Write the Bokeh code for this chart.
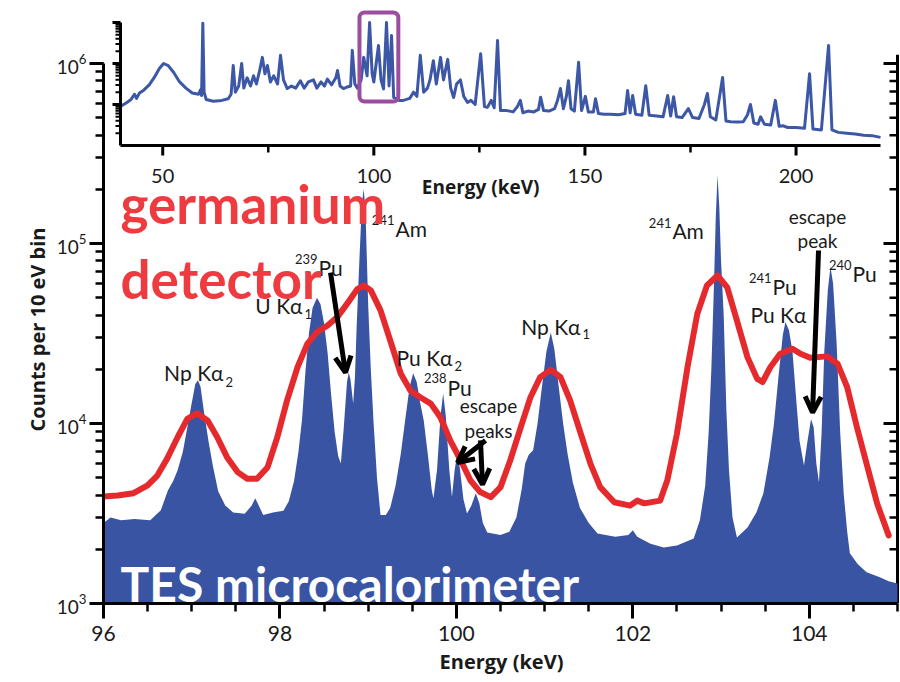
from bokeh.plotting import figure
from bokeh.models import (Range1d, LogScale, SingleIntervalTicker, Arrow, OpenHead, Title)
from bokeh.core.properties import value
from bokeh.embed import file_html
from bokeh.resources import INLINE

# ---------------- data ----------------
# TES microcalorimeter spectrum (counts per 10 eV bin)
tes_energy = [96.00, 96.08, 96.20, 96.35, 96.53, 96.65, 96.73, 96.79, 96.84, 96.90, 96.95, 97.00,
              97.04, 97.07, 97.10, 97.14, 97.19, 97.24, 97.30, 97.38, 97.47, 97.60, 97.68, 97.72,
              97.76, 97.81, 97.92, 98.04, 98.10, 98.16, 98.21, 98.25, 98.29, 98.33, 98.37, 98.42,
              98.46, 98.50, 98.54, 98.58, 98.62, 98.66, 98.69, 98.72, 98.76, 98.78, 98.80, 98.83,
              98.85, 98.87, 98.90, 98.93, 98.95, 98.97, 99.00, 99.03, 99.06, 99.10, 99.14, 99.20,
              99.25, 99.31, 99.37, 99.42, 99.47, 99.51, 99.55, 99.59, 99.63, 99.68, 99.72, 99.74,
              99.78, 99.82, 99.85, 99.88, 99.92, 99.95, 99.98, 100.01, 100.04, 100.08, 100.12,
              100.17, 100.22, 100.26, 100.30, 100.35, 100.50, 100.60, 100.68, 100.74, 100.78,
              100.82, 100.87, 100.92, 100.97, 101.02, 101.07, 101.11, 101.16, 101.21, 101.26,
              101.32, 101.40, 101.50, 101.60, 101.80, 101.95, 102.00, 102.05, 102.20, 102.35,
              102.50, 102.69, 102.76, 102.82, 102.86, 102.89, 102.92, 102.94, 102.96, 102.98,
              103.00, 103.03, 103.06, 103.09, 103.13, 103.18, 103.30, 103.40, 103.48, 103.55,
              103.60, 103.65, 103.70, 103.73, 103.77, 103.81, 103.85, 103.89, 103.94, 103.98,
              104.02, 104.05, 104.08, 104.11, 104.14, 104.17, 104.21, 104.24, 104.27, 104.31,
              104.35, 104.39, 104.43, 104.46, 104.55, 104.65, 104.80, 104.90, 105.00]
tes_counts = [2800, 3000, 2900, 2950, 2900, 3300, 4250, 4800, 5500, 7000, 9500, 13000,
              16500, 17400, 16000, 11500, 8000, 5800, 4200, 3500, 3200, 3150, 3500, 3840,
              3500, 3100, 3200, 3280, 3700, 4800, 7000, 10500, 19700, 32000, 44000, 50000,
              46000, 36000, 24700, 14500, 9000, 6600, 6000, 9000, 17000, 19200, 17500, 12900,
              18000, 35000, 80000, 170000, 200000, 150000, 46000, 20000, 10400, 5000, 3100, 3100,
              3400, 4500, 6800, 10500, 16000, 19000, 17000, 13000, 10400, 6500, 4300, 3840,
              5500, 11000, 14700, 11000, 5500, 3900, 5500, 6800, 5600, 3800, 3160,
              3500, 4100, 3600, 2800, 2480, 2400, 2500, 3000, 4300, 6000,
              6700, 7100, 10000, 16000, 25000, 32000, 26000, 16000, 10000, 6800,
              4700, 3400, 2800, 2450, 2350, 2400, 2550, 2350, 2150, 2050,
              2100, 2300, 2900, 4500, 9000, 20000, 60000, 140000, 240000, 160000,
              80000, 40000, 12000, 5500, 3000, 2330, 2640, 3200, 4100, 6500,
              10000, 18000, 31000, 36600, 33000, 25000, 14000, 8000, 5850, 8000,
              10600, 9500, 6000, 4700, 9000, 25000, 55000, 74000, 60000, 28000,
              9000, 4100, 2500, 1900, 1650, 1490, 1400, 1330, 1290]

# Germanium detector spectrum
ge_energy = [95.97, 96.16, 96.34, 96.50, 96.61, 96.72, 96.84, 96.95, 97.06, 97.18, 97.29, 97.40,
             97.52, 97.63, 97.74, 97.86, 97.97, 98.08, 98.20, 98.31, 98.42, 98.54, 98.65, 98.76,
             98.88, 98.95, 99.03, 99.14, 99.25, 99.37, 99.48, 99.59, 99.71, 99.82, 99.93, 100.05,
             100.16, 100.27, 100.39, 100.50, 100.61, 100.73, 100.84, 100.95, 101.07, 101.18,
             101.29, 101.41, 101.52, 101.63, 101.79, 101.97, 102.05, 102.13, 102.31, 102.39,
             102.50, 102.62, 102.73, 102.84, 102.96, 103.07, 103.18, 103.30, 103.41, 103.47,
             103.56, 103.67, 103.81, 103.90, 104.01, 104.20, 104.32, 104.43, 104.54, 104.66,
             104.77, 104.90]
ge_counts = [3930, 3980, 4100, 4530, 5140, 6360, 8390, 10600, 11400, 10400, 8390, 6500,
             5370, 4930, 4930, 5720, 8390, 13400, 20600, 27700, 32200, 35000, 39000, 46200,
             56000, 58400, 54900, 42500, 28900, 18900, 15200, 14000, 12900, 10800, 8050, 6230,
             4820, 4160, 3900, 4430, 6230, 9550, 14000, 18100, 19900, 18100,
             13400, 8770, 5970, 4430, 3650, 3500, 3730, 3600, 3730, 4820,
             8770, 20600, 40600, 58400, 66400, 57100, 37300, 23300, 17700, 17000,
             20600, 24400, 26000, 24400, 23200, 23600, 21500, 15900, 9550, 5720,
             3580, 2390]

# Inset: full TES spectrum 40-220 keV
inset_energy = [40.0, 41.5, 42.5, 43.3, 43.8, 44.5, 45.5, 46.8, 48.0, 49.2, 50.2, 51.3, 52.6, 54.0,
                55.5, 57.0, 58.5, 58.9, 59.2, 59.5, 59.8, 60.3, 62.0, 64.0, 65.5, 66.2, 66.7, 67.2,
                68.0, 68.7, 69.2, 70.0, 70.8, 71.5, 72.2, 73.0, 73.6, 74.2, 74.8, 75.5, 76.3, 77.2,
                77.9, 78.6, 79.5, 80.5, 81.5, 82.6, 83.5, 84.5, 85.7, 86.5, 87.5, 88.3, 89.0, 90.0,
                91.0, 91.4, 92.0, 92.8, 93.5, 94.5, 94.9, 95.5, 96.1, 97.0, 97.6, 98.4, 99.0, 99.6,
                100.0, 101.1, 101.7, 102.3, 103.0, 103.6, 104.2, 104.7, 106.0, 107.0, 108.5, 109.4,
                110.2, 111.0, 111.8, 112.7, 113.3, 114.1, 114.8, 115.8, 116.5, 117.5, 118.2, 118.9,
                119.6, 120.5, 121.3, 122.2, 123.0, 124.0, 125.3, 126.2, 126.9, 127.8, 128.5, 129.3,
                130.0, 131.5, 133.0, 134.0, 134.7, 135.3, 136.5, 137.9, 139.0, 139.5, 140.2, 141.5,
                142.8, 143.5, 144.2, 144.9, 145.6, 146.1, 146.7, 147.5, 148.5, 149.2, 150.1, 150.8,
                152.0, 152.5, 153.2, 154.5, 156.0, 158.0, 159.5, 160.1, 160.7, 161.3, 162.0, 163.5,
                164.4, 165.2, 167.0, 168.5, 169.6, 170.3, 171.0, 171.7, 173.0, 174.5, 175.5, 177.0,
                178.3, 179.0, 179.7, 181.0, 182.6, 183.4, 184.5, 186.0, 187.5, 188.5, 189.2, 190.0,
                191.0, 191.6, 192.5, 194.0, 195.1, 196.0, 197.0, 198.0, 200.0, 202.0, 203.2, 204.0,
                206.0, 207.7, 208.5, 210.0, 212.0, 214.0, 216.0, 218.0, 220.0]
inset_counts = [89000, 112000, 132000, 178000, 141000, 191000, 224000, 302000, 457000, 759000,
                1.0e6, 891000, 603000, 355000, 251000, 191000, 178000, 224000, 166000, 9.55e6,
                200000, 132000, 120000, 126000, 138000, 178000, 891000, 200000, 282000, 1.0e6,
                251000, 447000, 282000, 501000, 316000, 708000, 1.41e6, 562000, 891000, 355000,
                501000, 316000, 1.58e6, 398000, 245000, 282000, 251000, 380000, 251000, 355000,
                398000, 251000, 355000, 282000, 417000, 302000, 447000, 676000, 282000, 245000,
                263000, 282000, 2.09e6, 316000, 251000, 398000, 1.41e6, 501000, 1.0e7, 562000,
                355000, 2.75e6, 398000, 240000, 1.0e7, 282000, 4.79e6, 148000, 126000, 126000,
                141000, 200000, 158000, 1.58e6, 200000, 251000, 398000, 1.17e6, 316000, 1.41e6,
                398000, 1.26e6, 251000, 148000, 316000, 398000, 158000, 112000, 126000, 100000,
                1.74e6, 89000, 85000, 126000, 83000, 3.63e6, 71000, 71000, 66000, 89000,
                126000, 63000, 69000, 66000, 76000, 151000, 71000, 69000, 79000, 126000,
                245000, 79000, 158000, 380000, 79000, 69000, 1.07e6, 71000, 158000, 66000,
                66000, 138000, 60000, 57500, 57500, 56200, 60000, 219000, 63000, 166000,
                57500, 55000, 288000, 55000, 52500, 50100, 166000, 52500, 155000, 50100,
                47900, 79000, 47900, 45700, 100000, 186000, 50100, 41700, 457000, 39800,
                38000, 37200, 38000, 56200, 100000, 35500, 33100, 50100, 33100, 31600,
                126000, 29500, 30200, 27500, 27500, 26300, 562000, 25100, 24000, 2.75e6,
                24000, 20900, 20000, 19100, 17800, 17400, 15800]

main_x_ticks = [96, 98, 100, 102, 104]
main_y_major = [1e3, 1e4, 1e5, 1e6]
main_y_minor = [m * d for d in (1e3, 1e4, 1e5) for m in range(2, 10)]
inset_major_ticks = [50, 100, 150, 200]
inset_minor_ticks = [75, 125, 175]
inset_y_major = [1e5, 1e6, 1e7]
inset_y_minor = [m * d for d in (1e4, 1e5, 1e6) for m in range(2, 10)]
inset_zoom_box = (96.6, 105.8, 1.18e5, 1.75e7)   # energy range / counts of highlighted box

# ---------------- layout ----------------
W, H = 900, 682
FL, FR, FT, FB = 103, 899, 5, 603          # frame edges in px
PX_KEV = 88.222                             # px per keV (main)
PX_DEC = 180.0                              # px per decade (main)
x_end = 96 + (FR - FL) / PX_KEV
y_top = 10 ** (3 + (FB - FT) / PX_DEC)

# inset geometry (px)
IX_L, IX_R, IE_L, IE_R = 120, 880, 40.0, 220.0
I_PXKEV = (IX_R - IX_L) / (IE_R - IE_L)
I_PXDEC = 41.0
I_Y1E4 = 145
ix_start = IE_L - (IX_L - FL) / I_PXKEV
ix_end = ix_start + (FR - FL) / I_PXKEV
iy_lo = 4 - (FB - I_Y1E4) / I_PXDEC
iy_hi = iy_lo + (FB - FT) / I_PXDEC

FONT = "Lato"
BOLD_FONT = "Open Sans"
BLUE = "#3a54a4"
RED = "#e52a2e"
INK = "#1a1a1a"

p = figure(width=W, height=H, x_range=Range1d(96, x_end), y_range=Range1d(1e3, y_top),
           y_axis_type="log", output_backend="svg", toolbar_location=None,
           min_border_left=FL, min_border_right=W - FR, min_border_top=FT,
           min_border_bottom=H - FB)
p.outline_line_color = None
p.xgrid.visible = False
p.ygrid.visible = False
p.background_fill_color = "white"
p.border_fill_color = "white"

p.extra_x_ranges = {"inset": Range1d(ix_start, ix_end)}
p.extra_y_ranges = {"inset": Range1d(10 ** iy_lo, 10 ** iy_hi)}
p.extra_y_scales = {"inset": LogScale()}

# main axes
xa = p.xaxis[0]
xa.ticker = SingleIntervalTicker(interval=2, num_minor_ticks=4)
xa.bounds = (96, 105)
xa.axis_label = "Energy (keV)"
xa.axis_label_text_font = BOLD_FONT
xa.axis_label_text_font_style = "bold"
xa.axis_label_text_font_size = "20px"
xa.axis_label_text_color = INK
xa.axis_label_standoff = 4
xa.major_label_text_font = FONT
xa.major_label_text_font_size = "21px"
xa.major_label_text_color = INK
xa.major_label_standoff = 7
xa.axis_line_width = 3
xa.major_tick_line_width = 3
xa.minor_tick_line_width = 2.5
xa.major_tick_out = 15
xa.major_tick_in = 0
xa.minor_tick_out = 8
xa.minor_tick_in = 0

ya = p.yaxis[0]
ya.bounds = (1e3, 1e6)
ya.major_label_text_font = FONT
ya.major_label_text_font_size = "19px"
ya.major_label_text_color = INK
ya.major_label_standoff = 3
ya.axis_line_width = 3
ya.major_tick_line_width = 3
ya.minor_tick_line_width = 2.5
ya.major_tick_out = 14
ya.major_tick_in = 0
ya.minor_tick_out = 8
ya.minor_tick_in = 0

p.add_layout(Title(text="Counts per 10 eV bin", align="left", offset=172, standoff=6,
                   text_font=BOLD_FONT, text_font_style="bold", text_font_size="20px",
                   text_color=INK), "left")

# right-hand frame axis (ticks pointing inward), drawn with glyphs
R_E = 105.0
p.segment(x0=[R_E], x1=[R_E], y0=[1e3], y1=[1.12e6], line_color="black", line_width=3)
p.segment(x0=[R_E] * len(main_y_major), x1=[R_E - 14 / PX_KEV] * len(main_y_major),
          y0=main_y_major, y1=main_y_major, line_color="black", line_width=3)
p.segment(x0=[R_E] * len(main_y_minor), x1=[R_E - 8 / PX_KEV] * len(main_y_minor),
          y0=main_y_minor, y1=main_y_minor, line_color="black", line_width=2.5)

# main spectra
p.varea(x=tes_energy, y1=[900] * len(tes_energy), y2=tes_counts, fill_color=BLUE)
p.line(ge_energy, ge_counts, line_color=RED, line_width=6, line_join="round", line_cap="round")

# peak labels (keV, counts)
lbl_right = dict(x=[97.360, 98.256, 99.956, 101.407],
                 y=[19200, 45200, 23300, 34600],
                 text=["Np Kα", "U Kα", "Pu Kα", "Np Kα"])
sub = dict(x=[97.383, 98.278, 99.978, 101.429],
           y=[17100, 40800, 21000, 31600],
           text=["2", "1", "2", "1"])
lbl_left = dict(x=[103.334, 98.437, 99.310, 99.899, 102.449, 103.583, 104.490],
                y=[40300, 73600, 121200, 15850, 118100, 57700, 68100],
                text=["Pu Kα", "Pu", "Am", "Pu", "Am", "Pu", "Pu"])
sup = dict(x=[98.426, 99.298, 99.888, 102.438, 103.572, 104.479],
           y=[82500, 135900, 17800, 130800, 64700, 75500],
           text=["239", "241", "238", "241", "241", "240"])
lbl_center = dict(x=[100.364, 100.364, 104.093, 104.093],
                  y=[12590, 9140, 141300, 103900],
                  text=["escape", "peaks", "escape", "peak"])

common = dict(text_font=value(FONT), text_color=INK, text_baseline="alphabetic")
p.text(x="x", y="y", text="text", source=lbl_right, text_align="right", text_font_size="21px", **common)
p.text(x="x", y="y", text="text", source=sub, text_align="left", text_font_size="13px", **common)
p.text(x="x", y="y", text="text", source=lbl_left, text_align="left", text_font_size="21px", **common)
p.text(x="x", y="y", text="text", source=sup, text_align="right", text_font_size="13px", **common)
p.text(x="x", y="y", text="text", source=lbl_center, text_align="center", text_font_size="19px", **common)

# arrows (keV, counts)
arrows = [((98.573, 69000), (98.743, 19200)),
          ((100.330, 8050), (100.013, 6070)),
          ((100.273, 8050), (100.296, 4580)),
          ((104.105, 91400), (104.037, 11500))]
for (xs, ys), (xe, ye) in arrows:
    p.add_layout(Arrow(x_start=xs, y_start=ys, x_end=xe, y_end=ye, line_width=5,
                       line_color="black",
                       end=OpenHead(size=16, line_width=5, line_color="black")))

# big detector labels
p.text(x=[96.193, 96.193], y=[166800, 63900], text=["germanium", "detector"],
       text_font=value(FONT), text_font_style="bold", text_font_size="53px",
       text_color="#ee3b40", text_baseline="alphabetic", text_align="left")
p.text(x=[96.193], y=[1292], text=["TES microcalorimeter"],
       text_font=value(FONT), text_font_style="bold", text_font_size="48px",
       text_color="white", text_baseline="alphabetic", text_align="left")

# ---------------- inset ----------------
ikw = dict(x_range_name="inset", y_range_name="inset")
p.line(inset_energy, inset_counts, line_color="#3d57a7", line_width=3, line_join="round", **ikw)

# inset axes
p.segment(x0=[IE_L, IE_L], y0=[1e4, 1e4], x1=[IE_R, IE_L], y1=[1e4, 1e7],
          line_color="black", line_width=3, **ikw)
p.segment(x0=inset_major_ticks, x1=inset_major_ticks, y0=[1e4] * 4,
          y1=[10 ** (4 - 10 / I_PXDEC)] * 4, line_color="black", line_width=3, **ikw)
p.segment(x0=inset_minor_ticks, x1=inset_minor_ticks, y0=[1e4] * 3,
          y1=[10 ** (4 - 7 / I_PXDEC)] * 3, line_color="black", line_width=2.5, **ikw)
p.segment(x0=[IE_L] * 3, x1=[IE_L - 8 / I_PXKEV] * 3, y0=inset_y_major, y1=inset_y_major,
          line_color="black", line_width=3, **ikw)
p.segment(x0=[IE_L] * len(inset_y_minor), x1=[IE_L - 5 / I_PXKEV] * len(inset_y_minor),
          y0=inset_y_minor, y1=inset_y_minor, line_color="black", line_width=2, **ikw)
p.text(x=inset_major_ticks, y=[10 ** (6 + (63 - 175) / I_PXDEC)] * 4,
       text=[str(t) for t in inset_major_ticks], text_align="center", text_baseline="middle",
       text_font=value(FONT), text_font_size="20px", text_color=INK, **ikw)
p.text(x=[125.3], y=[1000], text=["Energy (keV)"], text_align="center", text_baseline="middle",
       text_font=value(BOLD_FONT), text_font_style="bold", text_font_size="19px",
       text_color=INK, **ikw)

bx0, bx1, by0, by1 = inset_zoom_box
p.quad(left=[bx0], right=[bx1], bottom=[by0], top=[by1], fill_color=None,
       line_color="#9b4d9f", line_width=4, border_radius=5, **ikw)

open("out.html", "w").write(file_html(p, INLINE))
